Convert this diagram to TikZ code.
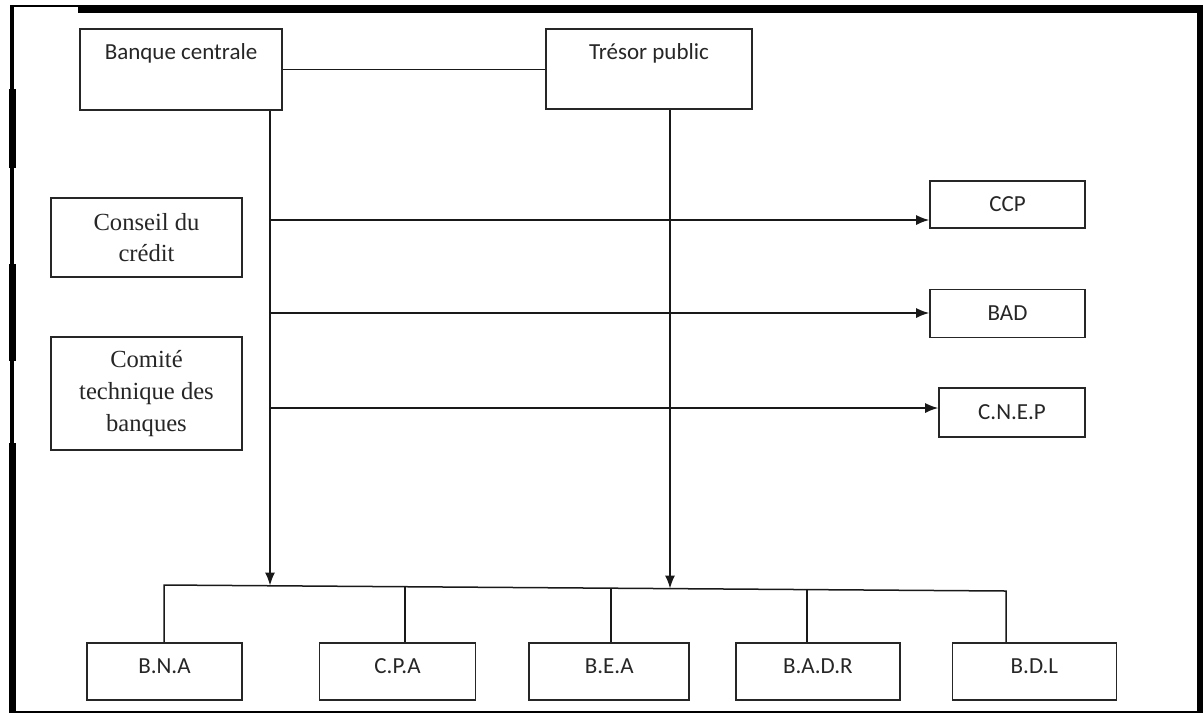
\documentclass[tikz,border=0pt]{standalone}
\usepackage{fontspec}
\setmainfont{Liberation Serif}
\newfontfamily\calib{Carlito}
\usetikzlibrary{positioning,arrows.meta}
\tikzset{
	>={Latex[length=6.5pt,width=5pt]},
}

\begin{document}
\begin{tikzpicture}[x=0.5pt,y=-0.5pt,
		box/.style={rectangle, draw=black!85, line width=0.8pt, inner sep=0pt, text=black!85, font=\calib\fontsize{11.5}{14}\selectfont},
		head/.style={box, text height=15.2pt, text depth=25.3pt},
		organ/.style={box, align=center, minimum width=95.5pt, font=\fontsize{12.3}{15.8}\selectfont},
		inst/.style={box, minimum height=24pt},
		bank/.style={box, text height=15.2pt, text depth=13.3pt},
		link/.style={line width=0.75pt, black!90},
	]
		\useasboundingbox (0,0) rectangle (1203,713);
		\fill (78,5) rectangle (1203,13);
		\fill (1197,5) rectangle (1203,713);
		\fill (9,710.5) rectangle (1203,712.5);
		\fill (10,5) rectangle (14,713);
		\fill (10,5) rectangle (78,7);
		\foreach \a/\b in {89/168,264/361,443/713}
			\fill (9,\a) rectangle (16,\b);

		\draw
			(181,69.5) node(bc)[head,minimum width=101pt]{Banque centrale}
			(649,69) node(tp)[head,minimum width=103pt,text depth=24.8pt]{Trésor public}
			(146.5,237.5) node(conseil)[organ,minimum height=39.5pt]{Conseil du\\crédit}
			(146.5,393.5) node(comite)[organ,minimum height=56.5pt]{Comité\\technique des\\banques}
			(1007.5,204.5) node(ccp)[inst,minimum width=77.5pt,minimum height=23.5pt]{CCP}
			node(bad)[inst,minimum width=77.5pt,below=30pt of ccp]{BAD}
			(1012,412.5) node(cnep)[inst,minimum width=73pt,minimum height=24.5pt]{C.N.E.P}
			(164.5,671.5) node(bna)[bank,minimum width=77.5pt]{B.N.A}
			node(cpa)[bank,minimum width=78pt,right=38pt of bna]{C.P.A}
			node(bea)[bank,minimum width=80pt,right=26pt of cpa]{B.E.A}
			node(badr)[bank,minimum width=82pt,right=22.5pt of bea]{B.A.D.R}
			node(bdl)[bank,minimum width=82pt,right=25.5pt of badr]{B.D.L}
		;
		\coordinate (bcend) at (270,585.5);
		\coordinate (tpend) at (670,588.5);
		\coordinate (d1) at (164,585);
		\coordinate (d5) at (1006,591);
		\draw[link] (bc.east) -- (bc.east -| tp.west);
		\draw[link,->] (bc.south -| bcend) -- (bcend);
		\draw[link,->] (tp.south -| tpend) -- (tpend);
		\foreach \y/\n in {220/ccp,313/bad,408/cnep}
			\draw[link,->] (270,\y) coordinate(k) -- (k -| \n.west);
		\draw[link] (bna.north -| d1) -- (d1) -- (d5) -- (bdl.north -| d5);
		\foreach \x/\y/\n in {405/586.7/cpa,611/588.2/bea,807/589.6/badr}
			\draw[link] (\x,\y) coordinate(k) -- (k |- \n.north);
	\end{tikzpicture}
\end{document}
